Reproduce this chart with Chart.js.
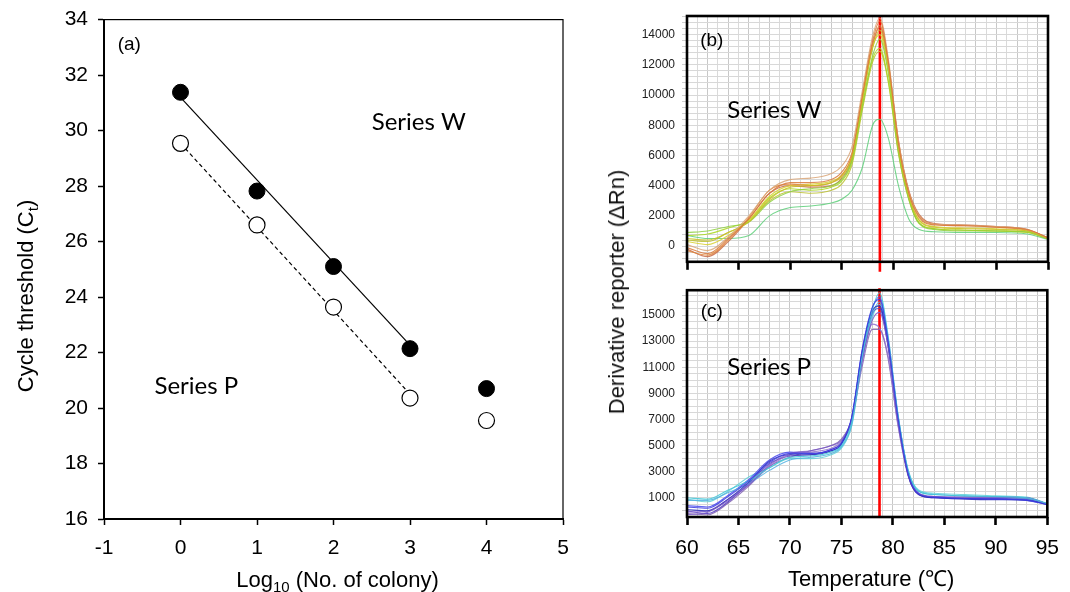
<!DOCTYPE html>
<html>
<head>
<meta charset="utf-8">
<script src="https://cdn.jsdelivr.net/npm/chart.js@4.4.0/dist/chart.umd.min.js"></script>
<style>
  body { margin: 0; background: #fff; width: 1070px; height: 592px; position: relative; overflow: hidden; }
  canvas { position: absolute; }
  #ytitle { position: absolute; left: 617px; top: 292px; transform: translate(-50%, -50%) rotate(-90deg);
            font: 22px 'Liberation Sans', Arial, sans-serif; white-space: nowrap; color: #111; }
</style>
</head>
<body>
<canvas id="chartA" width="600" height="595" style="left:0;top:-3px"></canvas>
<canvas id="chartW" width="470" height="276" style="left:600px;top:0"></canvas>
<canvas id="chartP" width="470" height="316" style="left:600px;top:276px"></canvas>
<div id="ytitle">Derivative reporter (ΔRn)</div>
<script>
/* Panel (a): Ct vs log colony number, (b)/(c): melt curves */
Chart.defaults.font.family = "'Liberation Sans', Arial, sans-serif"
Chart.defaults.color = '#000'
Chart.defaults.animation = false

// ---- panel (a) data
const logColony = [0, 1, 2, 3, 4]
const ctW = [31.38, 27.82, 25.1, 22.14, 20.7]
const ctP = [29.54, 26.6, 23.64, 20.36, 19.55]
const fitX = [0, 3]
const fitW = [31.2, 22.27]
const fitP = [29.54, 20.5]
const xTicksA = [-1, 0, 1, 2, 3, 4, 5]
const yTicksA = [16, 18, 20, 22, 24, 26, 28, 30, 32, 34]

// ---- melt curve data (temperature in °C, derivative reporter)
const temps = [60, 62, 64, 66, 68, 70, 72, 74, 75, 76, 77, 78, 78.7, 79.5, 80.5, 81.5, 82.5, 84, 87, 90, 93, 95]
const tempTicks = [60, 65, 70, 75, 80, 85, 90, 95]
const meltTemp = 78.7

const w1 = [-100, -500, 500, 1800, 3500, 4200, 4200, 4400, 4900, 6200, 10000, 13600, 14900, 12300, 6800, 3500, 1900, 1400, 1350, 1250, 1100, 550]
const w2 = [100, -300, 600, 2000, 3700, 4400, 4500, 4800, 5300, 6600, 10300, 13900, 15100, 12500, 7000, 3600, 2000, 1450, 1400, 1300, 1100, 520]
const w3 = [500, 400, 900, 1600, 3100, 3900, 4000, 4200, 4600, 5900, 9600, 13100, 14300, 11900, 6500, 3300, 1700, 1250, 1150, 1100, 1000, 500]
const w4 = [900, 1000, 1300, 1600, 2900, 3600, 3800, 4000, 4400, 5700, 9300, 12600, 13700, 11500, 6200, 3100, 1500, 1100, 1000, 1000, 950, 500]
const w5 = [-300, -600, 400, 1900, 3700, 4100, 4000, 4200, 4700, 6000, 9800, 13400, 14600, 12100, 6900, 3600, 2000, 1450, 1350, 1250, 1050, 560]
const w6 = [300, 100, 700, 1700, 3300, 4000, 4100, 4300, 4700, 6000, 9700, 13200, 14000, 11700, 6600, 3400, 1750, 1300, 1200, 1150, 1000, 520]
const w7 = [700, 800, 1200, 1700, 3200, 3800, 3700, 3900, 4300, 5600, 9200, 12400, 13100, 11000, 6300, 3200, 1550, 1150, 1050, 1000, 920, 480]
const w8 = [-200, -700, 300, 1800, 3500, 4000, 3900, 4000, 4500, 5800, 9700, 13300, 14500, 12200, 7000, 3700, 2100, 1500, 1400, 1300, 1100, 560]
const w9 = [400, 300, 900, 1600, 3000, 3600, 3500, 3700, 4100, 5400, 9000, 12200, 12900, 10900, 6100, 3100, 1500, 1150, 1050, 1000, 900, 480]
const w10 = [700, 500, 500, 700, 2000, 2550, 2650, 2850, 3100, 3700, 5200, 8000, 8400, 7200, 4000, 1800, 1100, 950, 900, 900, 800, 450]
const seriesW = [w1, w2, w3, w4, w5, w6, w7, w8, w9, w10]
const colorsW = ['#d9773a', '#d9a577', '#c9c020', '#8fd040', '#e0853a', '#d8d030', '#a8d81a', '#c86a48', '#bcc030', '#5ccf78']

const p1 = [300, 200, 1100, 2300, 3700, 4400, 4400, 4700, 5200, 7200, 12300, 15600, 16200, 13200, 7100, 2800, 1300, 1050, 950, 900, 800, 480]
const p2 = [1000, 900, 1600, 2300, 3300, 4100, 4200, 4500, 5000, 6800, 11800, 15400, 16700, 13600, 7400, 3000, 1500, 1250, 1150, 1100, 1000, 560]
const p3 = [-300, -100, 800, 2000, 3500, 4400, 4600, 5000, 5400, 7000, 11500, 14600, 15200, 12800, 6900, 2800, 1350, 1100, 1050, 1050, 1000, 520]
const p4 = [100, 0, 900, 2200, 3800, 4300, 4300, 4600, 5100, 7100, 12100, 15300, 15700, 12900, 7000, 2700, 1250, 1000, 900, 850, 800, 470]
const p5 = [800, 800, 1400, 2100, 3100, 3900, 4100, 4400, 4900, 6600, 11600, 15000, 16000, 13100, 7200, 3000, 1500, 1250, 1150, 1050, 950, 540]
const p6 = [-100, 0, 900, 2000, 3400, 4300, 4500, 4800, 5300, 6900, 11300, 14300, 14000, 12000, 6600, 2700, 1300, 1100, 1050, 1050, 1000, 520]
const p7 = [400, 300, 1200, 2400, 3900, 4500, 4400, 4600, 5100, 7100, 12200, 15500, 16400, 13400, 7300, 2900, 1350, 1050, 950, 900, 850, 500]
const p8 = [0, -200, 700, 2100, 3600, 4200, 4300, 4700, 5200, 7000, 11900, 15100, 15500, 12700, 6900, 2700, 1250, 1000, 950, 950, 900, 500]
const p9 = [900, 700, 1500, 2600, 3300, 4000, 4000, 4300, 4800, 6500, 11400, 14800, 15800, 13000, 7200, 3100, 1600, 1350, 1250, 1150, 1050, 560]
const p10 = [-200, -300, 600, 1900, 3400, 4100, 4600, 5000, 5500, 7000, 11000, 13900, 13900, 11800, 6500, 2600, 1250, 1050, 1000, 1000, 950, 520]
const seriesP = [p1, p2, p3, p4, p5, p6, p7, p8, p9, p10]
const colorsP = ['#3a3ae0', '#40c8d8', '#7a5ac8', '#2a2ab8', '#50b0e0', '#9070d0', '#4848f0', '#5038c0', '#60d0d8', '#8060b0']

const yLabelsW = [0, 2000, 4000, 6000, 8000, 10000, 12000, 14000]
const yLabelsP = [1000, 3000, 5000, 7000, 9000, 11000, 13000, 15000]

// ---- helpers
function drawSubText(ctx, parts, cx, cy, size) {
  // parts: [text, isSubscript]
  const big = size + "px 'Liberation Sans', Arial, sans-serif"
  const small = Math.round(size * 0.68) + "px 'Liberation Sans', Arial, sans-serif"
  let total = 0
  parts.forEach(p => { ctx.font = p[1] ? small : big; total += ctx.measureText(p[0]).width })
  let x = cx - total / 2
  ctx.textBaseline = 'alphabetic'
  ctx.textAlign = 'left'
  parts.forEach(p => {
    ctx.font = p[1] ? small : big
    ctx.fillText(p[0], x, cy + (p[1] ? size * 0.22 : 0))
    x += ctx.measureText(p[0]).width
  })
}

const framePlugin = {
  id: 'frame',
  afterDatasetsDraw(chart, args, opts) {
    const { ctx, chartArea: a } = chart
    ctx.save()
    ctx.strokeStyle = '#000'
    ctx.lineWidth = opts.width || 1
    ctx.strokeRect(a.left, a.top, a.right - a.left, a.bottom - a.top)
    ctx.restore()
  }
}

const notesPlugin = {
  id: 'notes',
  afterDraw(chart, args, opts) {
    const ctx = chart.ctx
    const xs = chart.scales.x, ys = chart.scales.y
    ctx.save()
    ctx.fillStyle = '#000'
    ;(opts.items || []).forEach(it => {
      ctx.font = it.font
      ctx.textAlign = it.align || 'left'
      ctx.textBaseline = 'middle'
      ctx.fillText(it.text, xs.getPixelForValue(it.x), ys.getPixelForValue(it.y))
    })
    if (opts.titles) opts.titles(chart, ctx)
    ctx.restore()
  }
}

const labelFont = "19px 'Liberation Sans', Arial, sans-serif"
const seriesFont = "24px Lato, 'Open Sans', sans-serif"

// ---- panel (a)   (canvas sits 3px above the page top)
const ctxA = document.getElementById('chartA')
new Chart(ctxA, {
  type: 'scatter',
  data: {
    datasets: [
      { data: fitX.map((x, i) => ({ x: x, y: fitW[i] })), showLine: true, borderColor: '#000', borderWidth: 1.2, pointRadius: 0, order: 3 },
      { data: fitX.map((x, i) => ({ x: x, y: fitP[i] })), showLine: true, borderColor: '#000', borderWidth: 1.2, borderDash: [4, 3], pointRadius: 0, order: 3 },
      { data: logColony.map((x, i) => ({ x: x, y: ctW[i] })), pointRadius: 8, backgroundColor: '#000', borderColor: '#000', borderWidth: 1, order: 1 },
      { data: logColony.map((x, i) => ({ x: x, y: ctP[i] })), pointRadius: 8, backgroundColor: '#fff', borderColor: '#000', borderWidth: 1.2, order: 1 }
    ]
  },
  options: {
    responsive: false,
    layout: { padding: { top: 19, right: 37, left: 0, bottom: 0 } },
    plugins: {
      legend: { display: false }, tooltip: { enabled: false },
      frame: { width: 1.2 },
      notes: {
        items: [
          { text: '(a)', x: -0.67, y: 33.1, font: labelFont, align: 'center' },
          { text: 'Series W', x: 2.5, y: 30.3, font: seriesFont },
          { text: 'Series P', x: -0.34, y: 20.8, font: seriesFont }
        ],
        titles(chart, ctx) {
          const a = chart.chartArea
          drawSubText(ctx, [['Log', false], ['10', true], [' (No. of colony)', false]], (a.left + a.right) / 2 + 4, 590, 22)
          ctx.save()
          ctx.translate(33, 299)
          ctx.rotate(-Math.PI / 2)
          drawSubText(ctx, [['Cycle threshold (C', false], ['t', true], [')', false]], 0, 0, 22)
          ctx.restore()
        }
      }
    },
    scales: {
      x: {
        type: 'linear', min: -1, max: 5,
        afterBuildTicks: s => { s.ticks = xTicksA.map(v => ({ value: v })) },
        afterFit: s => { s.height = 73 },
        grid: { drawOnChartArea: false, tickLength: 6, tickColor: '#000', tickWidth: 1.5 },
        border: { color: '#000', width: 2 },
        ticks: { font: { size: 21 }, padding: 11, color: '#000', maxRotation: 0 }
      },
      y: {
        min: 16, max: 34,
        afterBuildTicks: s => { s.ticks = yTicksA.map(v => ({ value: v })) },
        afterFit: s => { s.width = 104 },
        grid: { drawOnChartArea: false, tickLength: 6, tickColor: '#000', tickWidth: 1.5 },
        border: { color: '#000', width: 2 },
        ticks: { font: { size: 21 }, padding: 10, color: '#000' }
      }
    }
  },
  plugins: [framePlugin, notesPlugin]
})

// ---- melt curve panels
function meltChart(id, series, colors, yMin, yMax, gridStep, yLabels, showX, xHeight, padTop, redClip, notes, titles) {
  const sets = series.map((vals, k) => ({
    data: temps.map((t, i) => ({ x: t, y: vals[i] })),
    borderColor: colors[k] + 'd8', borderWidth: 1.1, pointRadius: 0,
    cubicInterpolationMode: 'monotone'
  }))
  // melting-temperature marker, allowed to run past the frame into the gap between panels
  sets.push({ data: [{ x: meltTemp, y: -5000 }, { x: meltTemp, y: 25000 }], borderColor: '#ff0000', borderWidth: 2.6, pointRadius: 0,
              clip: redClip })
  return new Chart(document.getElementById(id), {
    type: 'line',
    data: { datasets: sets },
    options: {
      responsive: false,
      layout: { padding: { top: padTop, right: 22, left: 0, bottom: 0 } },
      plugins: { legend: { display: false }, tooltip: { enabled: false }, frame: { width: 2.6 }, notes: { items: notes, titles: titles } },
      scales: {
        x: {
          type: 'linear', min: 60, max: 95,
          afterBuildTicks: s => { const t = []; for (let v = 60; v <= 95; v++) t.push({ value: v }); s.ticks = t },
          afterFit: s => { s.height = xHeight },
          grid: {
            color: c => (c.tick && c.tick.value % 2 === 0) ? '#c8c8c8' : '#dadada',
            tickLength: 8,
            tickColor: c => (c.tick && tempTicks.includes(c.tick.value)) ? '#000' : 'rgba(0,0,0,0)',
            tickWidth: 2.6
          },
          border: { display: false },
          ticks: {
            display: showX, autoSkip: false, maxRotation: 0, padding: 11,
            font: { size: 21 }, color: '#000',
            callback: v => tempTicks.includes(v) ? v : ''
          }
        },
        y: {
          min: yMin, max: yMax,
          afterBuildTicks: s => {
            const t = []
            for (let v = Math.ceil(yMin / gridStep) * gridStep; v <= yMax; v += gridStep) t.push({ value: v })
            s.ticks = t
          },
          afterFit: s => { s.width = 87 },
          grid: { color: '#d8d8d8', tickLength: 5, tickColor: '#cfcfcf' },
          border: { display: false },
          ticks: {
            autoSkip: false, padding: 7, font: { size: 12 }, color: '#222',
            callback: v => yLabels.includes(v) ? v : ''
          }
        }
      }
    },
    plugins: [framePlugin, notesPlugin]
  })
}

meltChart('chartW', seriesW, colorsW, -1040, 15230, 400, yLabelsW, false, 9, 16, { left: 0, right: 0, top: 0, bottom: 10 }, [
  { text: '(b)', x: 62.4, y: 13570, font: labelFont, align: 'center' },
  { text: 'Series W', x: 63.9, y: 8960, font: seriesFont }
])

meltChart('chartP', seriesP, colorsP, -470, 16900, 500, yLabelsP, true, 75, 2, { left: 0, right: 0, top: 2, bottom: 0 }, [
  { text: '(c)', x: 62.4, y: 15250, font: labelFont, align: 'center' },
  { text: 'Series P', x: 63.9, y: 10980, font: seriesFont }
], (chart, ctx) => {
  const a = chart.chartArea
  ctx.font = "22px 'Liberation Sans', Arial, sans-serif"
  ctx.textAlign = 'center'
  ctx.textBaseline = 'alphabetic'
  ctx.fillText('Temperature (℃)', (a.left + a.right) / 2 + 4, 310)
})
</script>
</body>
</html>
